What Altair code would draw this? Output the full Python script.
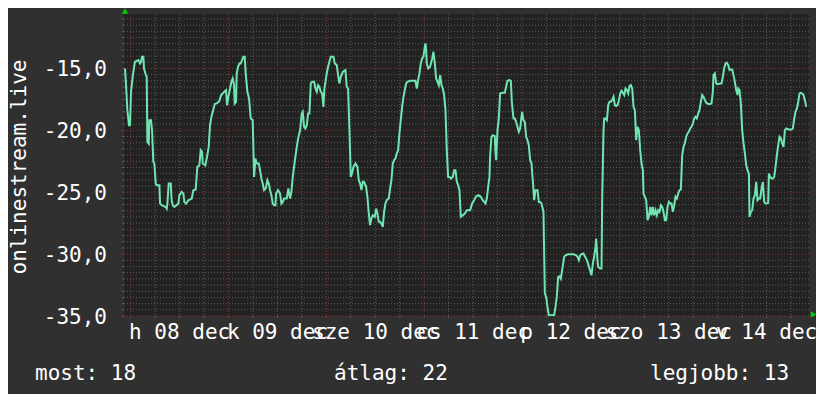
import altair as alt
import pandas as pd

# ---- data (hours since 08 dec 00:00, value) ----
hours = [
    -1.40, -1.15, -0.83, -0.42, -0.17, 0.07, 0.48, 0.83, 1.05, 1.87, 2.28, 2.53, 2.77, 3.10, 3.26, 3.59, 3.92,
    4.08, 4.41, 4.57, 4.98, 5.23, 5.55, 5.80, 6.13, 6.37, 7.03, 7.19, 7.60, 8.58, 8.83, 8.99, 9.32, 9.81,
    10.05, 10.30, 10.71, 11.69, 11.93, 12.51, 12.92, 13.16, 13.57, 14.14, 14.96, 15.37, 15.94, 16.35, 16.84,
    17.17, 17.50, 17.66, 18.31, 18.64, 19.13, 19.46, 19.79, 20.11, 20.60, 21.26, 21.75, 22.16, 22.57, 22.90,
    23.39, 23.63, 23.96, 24.37, 24.70, 25.02, 25.35, 25.51, 25.84, 26.00, 26.33, 26.66, 26.99, 27.31, 27.64,
    27.97, 28.21, 28.62, 29.03, 29.44, 29.93, 30.26, 30.59, 30.91, 31.40, 31.73, 32.06, 32.38, 32.71, 33.12,
    33.53, 33.86, 34.19, 34.51, 34.84, 35.17, 35.50, 35.66, 36.15, 36.64, 36.97, 37.30, 37.62, 38.28, 38.68,
    39.09, 39.42, 39.75, 40.07, 40.40, 40.73, 41.14, 41.55,
    41.71, 41.96, 42.20, 42.53, 42.86, 43.19, 43.51, 43.84, 44.17, 44.50, 44.99, 45.31, 45.64, 45.96, 46.29,
    46.62, 46.95, 47.27, 47.52, 47.77, 48.09, 48.42, 48.74, 49.07, 49.73, 50.05, 50.55, 50.87, 51.20, 51.53,
    52.02, 52.67, 53.00, 53.33, 53.66, 53.98, 54.31, 54.64, 55.13, 55.62, 55.95, 56.27, 56.60, 56.93, 57.25,
    57.74, 58.07, 58.40, 58.72, 59.05, 59.38, 59.87, 60.20, 60.52, 60.85, 61.18, 61.50, 61.83, 62.16, 62.49,
    62.81, 63.30, 63.63, 63.96, 64.29, 64.61, 64.94, 65.27, 65.60, 65.92, 66.25, 66.58, 66.91, 67.23, 67.56,
    67.89, 68.54, 69.85, 70.18, 70.51, 70.83, 71.16, 71.49, 71.82, 72.14, 72.31, 72.47, 72.64, 72.96, 73.45,
    73.95, 74.27, 74.60, 74.93, 75.26, 75.58, 75.91, 76.24, 76.56, 76.89, 77.22, 77.54, 77.87, 78.20, 78.53,
    79.02, 79.34, 79.67, 80.00, 80.33, 80.65, 80.98, 81.47, 81.96, 82.45, 83.27,
    83.76, 84.25, 84.74, 85.31, 85.88, 86.37, 86.70, 87.03, 87.36, 87.69, 88.01, 88.18, 88.50, 88.83, 89.32,
    89.48, 89.65, 89.98, 90.30, 90.63, 91.12, 91.77, 92.10, 92.43, 92.92, 93.25, 93.49, 93.90, 94.23, 94.55,
    94.88, 95.21, 95.54, 95.86, 96.03, 96.35, 96.68, 97.01, 97.33, 97.66, 97.99, 98.32, 98.64, 98.97, 99.30,
    99.79, 100.12, 100.44, 100.77, 101.26, 101.59, 101.92, 102.24, 102.57, 103.06, 103.88, 104.20, 104.53,
    104.86, 105.19, 105.51, 105.84, 106.33, 106.66, 107.31, 108.62, 109.28, 109.61, 109.93, 110.26, 110.59,
    111.08, 111.41, 111.73, 112.06, 112.55, 113.04, 113.37, 113.69, 114.02, 114.18, 114.51, 114.67, 115.17,
    115.50, 115.66, 115.99, 116.16, 116.48, 116.81, 117.14, 117.46, 117.79, 118.12, 118.45, 118.77, 119.10,
    119.43, 119.76, 120.08, 120.41, 120.74, 121.07, 121.39, 121.72, 122.05, 122.37, 122.70, 123.03, 123.35,
    123.68, 124.01, 124.34, 124.66, 124.99,
    125.31, 125.64, 125.80, 126.13, 126.46, 126.79, 127.11, 127.44, 127.76, 128.09, 128.42, 128.75, 129.07,
    129.40, 129.73, 130.05, 130.38, 130.71, 131.04, 131.36, 131.69, 132.02, 132.34, 132.67, 133.00, 133.33,
    133.65, 133.98, 134.31, 134.63, 134.96, 135.29, 135.62, 135.94, 136.27, 136.60, 136.92, 137.25, 137.58,
    137.91, 138.23, 138.56, 138.89, 139.21, 139.54, 139.87, 140.19, 140.52, 140.85, 141.18, 141.50, 141.83,
    142.16, 142.48, 142.81, 142.97, 143.30, 143.63, 143.96, 144.61, 144.94, 145.27, 145.59, 145.92, 146.25,
    146.58, 146.90, 147.23, 147.56, 147.88, 148.21, 148.54, 148.87, 149.03, 149.36, 149.68, 150.01, 150.34,
    150.67, 150.99, 151.32, 151.65, 151.81, 152.14, 152.47, 152.79, 153.12, 153.45, 153.77, 154.10, 154.43,
    154.76, 155.08, 155.41, 155.74, 156.06, 156.39, 156.56, 156.88, 157.21, 157.54, 157.87, 158.19, 158.52,
    158.85, 159.17, 159.50, 159.83, 160.16, 160.48, 160.81, 161.46, 162.12, 162.45, 162.77, 163.10, 163.43,
    163.76, 164.08, 164.41, 164.74, 165.06, 165.39, 165.72,
]
values = [
    -15.00, -16.35, -18.37, -19.58, -19.58, -16.89, -15.68, -14.87, -14.46, -14.33, -14.60, -14.46, -14.06,
    -14.06, -15.00, -15.41, -15.68, -20.93, -21.07, -19.18, -19.18, -19.99, -22.55, -22.68, -24.30, -24.43,
    -24.43, -25.92, -26.05, -26.19, -26.32, -25.92, -24.30, -24.30, -25.65, -26.05, -26.19, -25.92, -25.24,
    -24.97, -25.11, -25.78, -25.92, -25.65, -25.51, -24.84, -24.78, -22.95, -22.82, -21.60, -21.74, -22.68,
    -22.82, -22.28, -21.34, -19.58, -18.91, -18.51, -17.89, -17.78, -17.62, -17.16, -17.02, -16.89, -16.75,
    -17.97, -17.29, -16.62, -16.08, -15.81, -16.35, -17.83, -17.70, -15.41, -14.87, -14.60, -14.60, -14.33,
    -14.06, -14.06, -15.41, -16.89, -17.43, -19.04, -19.18, -23.76, -22.28, -22.68, -22.68, -23.22, -23.89,
    -24.30, -24.84, -24.70, -24.03, -24.30, -24.84, -25.24, -25.92, -26.05, -26.05, -25.11, -24.84, -25.11,
    -25.92, -25.78, -25.51, -25.51, -24.70, -25.51, -24.97, -23.76, -22.95, -22.14, -21.34, -20.53, -19.99,
    -19.45, -18.64, -18.50, -19.71, -19.85, -19.58, -18.64, -18.64, -16.21, -16.08, -16.08, -16.62, -16.89,
    -16.35, -16.48, -16.89, -17.02, -18.10, -16.62, -16.08, -15.40, -14.86, -14.46, -14.06, -14.06, -14.59,
    -14.73, -15.54, -16.21, -15.67, -15.27, -15.13, -16.48, -16.62, -19.98, -23.76, -23.49, -22.95, -22.68,
    -22.95, -24.03, -24.30, -24.83, -24.16, -24.16, -24.56, -25.37, -26.72, -27.66, -27.12, -26.86, -26.99,
    -26.32, -26.72, -27.39, -27.39, -27.53, -27.80, -26.59, -25.91, -25.64, -25.51, -24.70, -24.03, -22.68,
    -22.41, -22.27, -21.87, -21.60, -20.25, -19.18, -18.10, -17.29, -16.75, -16.21, -16.08, -16.00, -16.00,
    -16.62, -15.94, -15.40, -14.59, -14.19, -14.06, -13.25, -12.98, -13.52, -14.59, -15.00, -14.86, -14.19,
    -13.65, -14.59, -15.81, -16.08, -16.35, -15.54, -16.35, -16.62, -17.15, -18.37, -21.60, -23.76, -23.76,
    -23.89, -23.76, -23.22, -23.22, -24.16, -24.43, -24.83, -26.99, -26.86, -26.72, -26.45, -26.45,
    -25.91, -25.64, -25.32, -25.24, -25.37, -25.64, -25.78, -25.91, -25.51, -24.56, -23.76, -22.01, -20.52,
    -20.39, -20.47, -21.74, -22.41, -19.98, -19.04, -17.02, -16.97, -16.97, -16.48, -16.00, -15.94, -16.00,
    -17.69, -19.04, -19.04, -19.31, -19.71, -20.12, -19.85, -18.91, -18.50, -19.18, -19.31, -20.52, -20.79,
    -21.20, -22.41, -22.68, -24.03, -25.64, -24.83, -24.83, -25.78, -25.78, -25.91, -26.59, -33.19, -33.46,
    -34.27, -34.94, -34.94, -34.94, -34.27, -33.46, -31.84, -31.79, -31.98, -31.30, -30.22, -30.09, -30.01,
    -30.01, -30.09, -30.22, -30.49, -30.09, -30.01, -29.95, -30.17, -30.36, -30.63, -31.17, -31.71, -30.76,
    -30.22, -29.42, -28.74, -30.49, -31.03, -31.17, -31.17, -25.64, -19.98, -19.04, -19.04, -19.18, -17.96,
    -17.69, -17.69, -17.56, -17.29, -17.96, -18.04, -17.96, -17.56, -17.02, -16.80, -16.97, -17.15, -16.62,
    -16.75, -17.02, -16.43, -16.35, -16.62, -18.10, -18.37, -20.79, -19.71, -19.98, -21.60,
    -22.68, -23.22, -25.10, -25.37, -25.64, -27.26, -26.99, -26.18, -26.86, -26.18, -26.86, -26.45, -26.86,
    -26.45, -26.59, -26.05, -26.18, -26.59, -27.26, -27.26, -26.18, -25.78, -25.91, -25.91, -26.59, -26.05,
    -25.37, -25.51, -25.10, -24.83, -24.78, -22.01, -21.33, -21.06, -20.52, -20.25, -20.12, -19.85, -19.71,
    -19.45, -19.04, -18.91, -19.04, -18.64, -18.37, -17.69, -17.15, -17.29, -17.56, -17.77, -17.83, -17.88,
    -17.88, -17.83, -16.89, -15.54, -15.40, -16.21, -16.27, -16.21, -16.21, -15.67, -15.00, -14.59, -14.54,
    -14.73, -15.13, -15.08, -15.08, -15.54, -16.08, -16.75, -17.15, -16.62, -16.75, -17.83, -19.98, -21.06,
    -21.87, -22.81, -23.22, -23.49, -26.99, -26.59, -26.45, -25.51, -25.24, -24.16, -25.64, -25.51, -25.51,
    -24.70, -24.16, -25.78, -25.91, -25.91, -25.86, -23.49, -23.76, -23.89, -23.89, -23.76, -22.95, -22.01,
    -21.20, -20.52, -20.66, -21.06, -21.33, -19.98, -19.85, -19.93, -19.93, -19.85, -19.04, -18.50, -18.23,
    -17.69, -17.02, -16.97, -17.02, -17.15, -17.56, -18.10,
]

# axis labels
y_ticks = [-35, -30, -25, -20, -15]
y_tick_labels = ["-35,0", "-30,0", "-25,0", "-20,0", "-15,0"]
day_hours = [12, 36, 60, 84, 108, 132, 156]
day_labels = ["h 08 dec", "k 09 dec", "sze 10 dec", "cs 11 dec", "p 12 dec", "szo 13 dec", "v 14 dec"]
y_title = "onlinestream.live"
legend_texts = ["most: 18", "átlag: 22", "legjobb: 13"]

X_DOMAIN = [-1.65, 166.4]
Y_DOMAIN = [-35, -10.6]
W, H = 685, 302

FONT = "DejaVu Sans Mono"
BG = "#303030"
TXT = "#ffffff"
LINE = "#6fe6b2"
GRID = "#5c5c5c"
GRID_MAJOR = "#8a3a3a"

xs = alt.Scale(domain=X_DOMAIN, nice=False, zero=False)
ys = alt.Scale(domain=Y_DOMAIN, nice=False, zero=False)

series = pd.DataFrame({"h": hours, "v": values})

# grid positions
h_minor = [v / 2 for v in range(-70, -21) if v % 10 != 0]
h_major = y_ticks
v_minor = [h for h in range(6, 166, 6) if h % 24 != 0]
v_major = [h for h in range(0, 166, 24)]

def hrule(vals, color):
    return alt.Chart(pd.DataFrame({"v": vals})).mark_rule(
        color=color, strokeWidth=1, strokeDash=[1, 2]
    ).encode(y=alt.Y("v:Q", scale=ys, axis=None), x=alt.value(0), x2=alt.value(W))

def vrule(vals, color):
    return alt.Chart(pd.DataFrame({"h": vals})).mark_rule(
        color=color, strokeWidth=1, strokeDash=[1, 2]
    ).encode(x=alt.X("h:Q", scale=xs, axis=None), y=alt.value(0), y2=alt.value(H))

def vtick(vals, color):
    return alt.Chart(pd.DataFrame({"h": vals})).mark_rule(color=color, strokeWidth=1).encode(
        x=alt.X("h:Q", scale=xs, axis=None), y=alt.value(H), y2=alt.value(H + 2))

def htick(vals, color):
    return alt.Chart(pd.DataFrame({"v": vals})).mark_rule(color=color, strokeWidth=1).encode(
        y=alt.Y("v:Q", scale=ys, axis=None), x=alt.value(-2), x2=alt.value(0))

line = alt.Chart(series).mark_line(color=LINE, strokeWidth=2, clip=True).encode(
    x=alt.X("h:Q", scale=xs, axis=None),
    y=alt.Y("v:Q", scale=ys, axis=None),
)

ylab = alt.Chart(pd.DataFrame({"v": y_ticks, "t": y_tick_labels})).mark_text(
    font=FONT, fontSize=21, color=TXT, align="right", baseline="alphabetic", dy=7.5
).encode(y=alt.Y("v:Q", scale=ys, axis=None), x=alt.value(-17), text="t:N")

xlab = alt.Chart(pd.DataFrame({"h": day_hours, "t": day_labels})).mark_text(
    font=FONT, fontSize=21, color=TXT, align="center", baseline="alphabetic"
).encode(x=alt.X("h:Q", scale=xs, axis=None), y=alt.value(325), text="t:N")

ytitle = alt.Chart(pd.DataFrame({"t": [y_title]})).mark_text(
    font=FONT, fontSize=21, color=TXT, align="center", baseline="middle", angle=270
).encode(x=alt.value(-104), y=alt.value(153), text="t:N")

legend = alt.Chart(pd.DataFrame({"t": legend_texts, "px": [-89, 210, 526]})).mark_text(
    font=FONT, fontSize=21, color=TXT, align="left", baseline="alphabetic"
).encode(x=alt.X("px:Q", scale=None), y=alt.value(366), text="t:N")

arrow_up = alt.Chart(pd.DataFrame({"a": [0]})).mark_point(
    shape="triangle-up", filled=True, color="#00d000", size=40, opacity=1
).encode(x=alt.value(1), y=alt.value(-3))
arrow_right = alt.Chart(pd.DataFrame({"a": [0]})).mark_point(
    shape="triangle-right", filled=True, color="#00d000", size=40, opacity=1
).encode(x=alt.value(689.5), y=alt.value(300.5))

chart = alt.layer(
    hrule(h_minor, GRID), vrule(v_minor, GRID),
    hrule(h_major, GRID_MAJOR), vrule(v_major, GRID_MAJOR),
    vtick(v_minor, GRID), vtick(v_major, GRID_MAJOR),
    htick(h_minor, GRID), htick(h_major, GRID_MAJOR),
    line, ylab, xlab, ytitle, legend, arrow_up, arrow_right,
).properties(
    width=W, height=H,
    background=BG,
    padding={"left": 116, "top": 6, "right": 7, "bottom": 78},
    autosize=alt.AutoSizeParams(type="none"),
).configure_view(fill="#222222", stroke=None)

chart.save("out.html", embed_options={"renderer": "svg", "actions": False})
